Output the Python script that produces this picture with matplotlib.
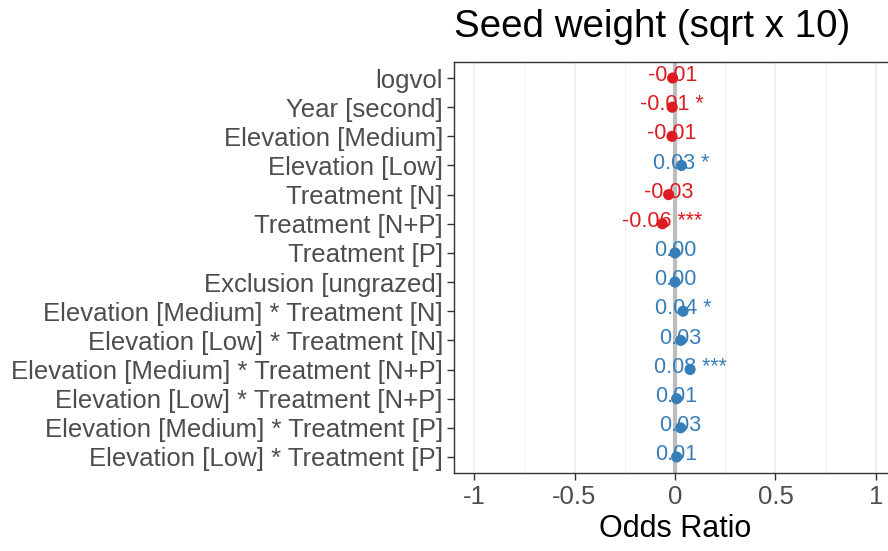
import numpy as np
import matplotlib
matplotlib.use("Agg")
import matplotlib.pyplot as plt
from matplotlib.ticker import MultipleLocator

# ── Data ──────────────────────────────────────
terms = [
    "logvol",
    "Year [second]",
    "Elevation [Medium]",
    "Elevation [Low]",
    "Treatment [N]",
    "Treatment [N+P]",
    "Treatment [P]",
    "Exclusion [ungrazed]",
    "Elevation [Medium] * Treatment [N]",
    "Elevation [Low] * Treatment [N]",
    "Elevation [Medium] * Treatment [N+P]",
    "Elevation [Low] * Treatment [N+P]",
    "Elevation [Medium] * Treatment [P]",
    "Elevation [Low] * Treatment [P]",
]
estimates = [-0.01, -0.01, -0.01, 0.03, -0.03, -0.06, 0.00,
             0.00, 0.04, 0.03, 0.08, 0.01, 0.03, 0.01]
stars = ["", "*", "", "*", "", "***", "",
         "", "*", "", "***", "", "", ""]
# point positions differ slightly from the rounded labels
points = [-0.012, -0.014, -0.015, 0.032, -0.032, -0.063, 0.0,
          0.0, 0.04, 0.028, 0.075, 0.008, 0.028, 0.008]

RED = "#dc1c22"
BLUE = "#377eb8"
TICK_TXT = "#4d4d4d"
FONT = "Liberation Sans"

plt.rcParams["font.family"] = [FONT, "DejaVu Sans"]

fig = plt.figure(figsize=(8.88, 5.51), dpi=100, facecolor="white")
ax = fig.add_axes([454 / 888, 1 - 473 / 551, 442 / 888, 411 / 551])

y = np.arange(len(terms))
colors = [RED if e < 0 else BLUE for e in estimates]

ax.axvline(0, color="#bdbdbd", linewidth=3, zorder=1)
ax.scatter(points, y, s=64, c=colors, zorder=3, linewidths=0)

for yi, px, est, st, col in zip(y, points, estimates, stars, colors):
    lab = f"{est:.2f}"
    if st:
        lab += " " + st
    ax.text(px, yi - 0.08, lab, color=col, ha="center", va="center",
            fontsize=15.5, zorder=2)

ax.set_xlim(-1.1, 1.1)
ax.set_ylim(len(terms) - 0.45, -0.55)
ax.xaxis.set_major_locator(MultipleLocator(0.5))
ax.xaxis.set_minor_locator(MultipleLocator(0.25))
ax.set_xticks([-1, -0.5, 0, 0.5, 1])
ax.set_xticklabels(["-1", "-0.5", "0", "0.5", "1"])
ax.set_yticks(y)
ax.set_yticklabels(terms)

ax.grid(which="major", axis="x", color="#ebebeb", linewidth=1.2, zorder=0)
ax.grid(which="minor", axis="x", color="#f2f2f2", linewidth=0.8, zorder=0)
ax.set_axisbelow(True)

for sp in ax.spines.values():
    sp.set_color("#333333")
    sp.set_linewidth(1.0)

ax.tick_params(axis="both", which="major", length=5, width=1.0,
               color="#333333", labelcolor=TICK_TXT, labelsize=18.5)
ax.tick_params(axis="x", which="minor", length=0)
ax.tick_params(axis="y", pad=3)

ax.set_xlabel("Odds Ratio", fontsize=22, color="black", labelpad=4)
ax.set_title("Seed weight (sqrt x 10)", loc="left", fontsize=27.7,
             color="black", pad=18)

fig.savefig("out.png", dpi=100, facecolor="white")
